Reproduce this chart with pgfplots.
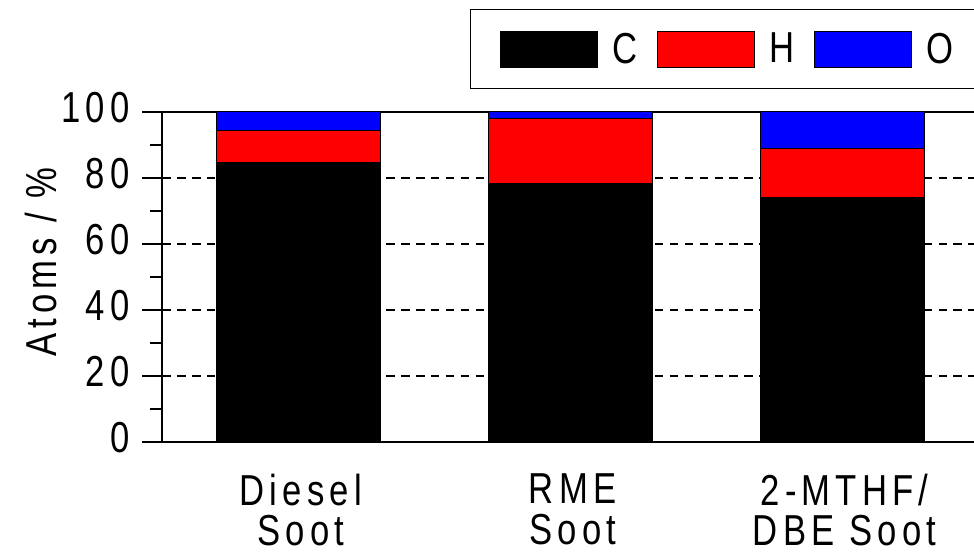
\documentclass[border=0pt]{standalone}
\usepackage{pgfplots}
\pgfplotsset{compat=1.18}
\usepackage{fontspec}
\setmainfont{Liberation Sans}[FakeStretch=0.8, LetterSpace=12]
\newcommand{\bigf}{\fontsize{32.5pt}{30.5pt}\selectfont}
\begin{document}
\begin{tikzpicture}
\path[use as bounding box, clip] (0,0) rectangle (730.5pt,415.5pt);
\begin{axis}[
  at={(121.5pt,84pt)}, anchor=south west,
  scale only axis, width=612pt, height=247.5pt,
  ybar stacked, bar width=123pt,
  xmin=-0.5, xmax=2.5, ymin=0, ymax=100,
  xtick={0,1,2},
  xticklabels={{Diesel\\Soot},{RME\\Soot},{2-MTHF/\\DBE Soot}},
  xtick style={draw=none},
  xtick align=inside,
  ytick={0,20,...,100},
  minor y tick num=1,
  ytick align=outside,
  ytick pos=left,
  major tick length=15pt, minor tick length=9pt,
  tick style={line width=1.9pt, black},
  axis line style={line width=1.9pt},
  /pgf/number format/assume math mode=true,
  ticklabel style={font=\bigf},
  xticklabel style={align=center, inner sep=0pt, anchor=north, yshift=-23.5pt, xshift=2pt},
  yticklabel style={inner sep=0pt, anchor=east, xshift=-9pt, yshift=3pt},
  ymajorgrids,
  major grid style={black, line width=1.3pt, dash pattern=on 6.5pt off 4.7pt},
  ylabel={Atoms / \%},
  every axis y label/.style={at={(rel axis cs:-0.148,0.545)}, rotate=90, anchor=center, font=\bigf},
  legend columns=-1,
  legend image code/.code={\draw[#1, draw=black, line width=0.75pt] (0pt,-13.5pt) rectangle (72.75pt,13.5pt);},
  legend style={at={(rel axis cs:0.3775,1.311)}, anchor=north west, draw=black, line width=0.75pt,
    font=\bigf, inner xsep=22pt, inner ysep=15.5pt,
    nodes={inner sep=0pt},
    /tikz/every odd column/.append style={column sep=11pt},
    /tikz/every even column/.append style={column sep=14.5pt}},
]
\addplot[fill=black, draw=black, line width=0.75pt] coordinates {(0,84.6) (1,78.2) (2,74.2)};
\addplot[fill=red, draw=black, line width=0.75pt] coordinates {(0,9.7) (1,19.8) (2,14.7)};
\addplot[fill=blue, draw=black, line width=0.75pt] coordinates {(0,5.7) (1,2.0) (2,11.1)};
\legend{C,H,O}
\end{axis}
\end{tikzpicture}
\end{document}
